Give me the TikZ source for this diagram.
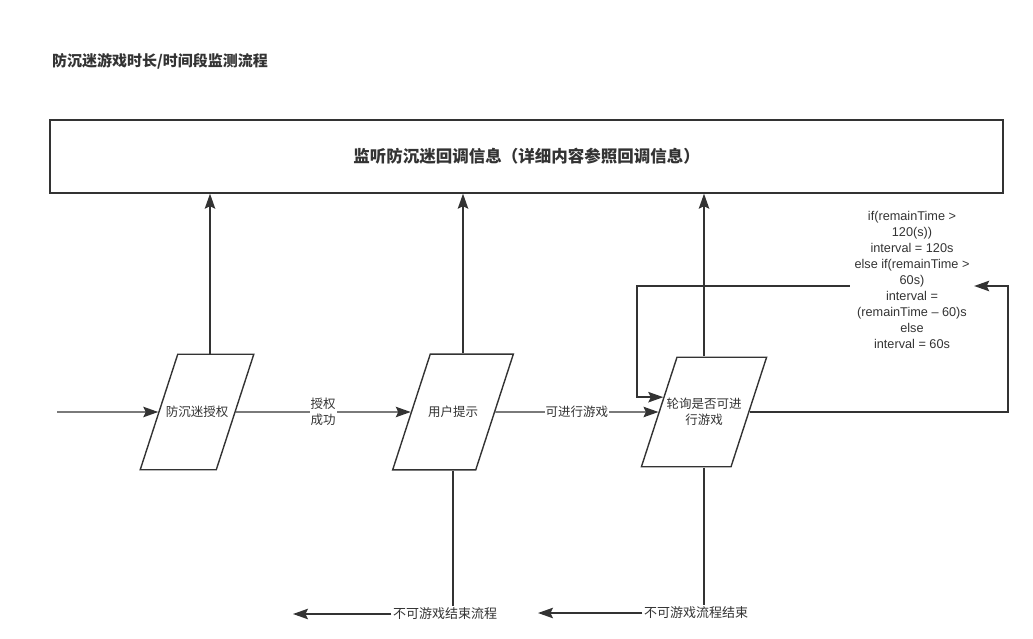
\documentclass[tikz,border=0pt]{standalone}
\usepackage{fontspec}
\setmainfont{Noto Sans CJK SC}
\newfontfamily\latinfont{Liberation Sans}
\usetikzlibrary{shapes.geometric,arrows.meta}
\definecolor{ink}{HTML}{333333}

\begin{document}
\begin{tikzpicture}[x=1pt,y=-1pt,line width=1.4pt,draw=ink,text=ink,
    para/.style={draw,trapezium,trapezium left angle=72,trapezium right angle=108,
        inner ysep=52pt,align=center,
        font=\fontsize{12.5}{16}\selectfont},
    flow/.style={-{Stealth[length=15pt,width=10.5pt,inset=2.5pt]}},
    lbl/.style={fill=white,inner sep=1pt,align=center,font=\fontsize{12.5}{16}\selectfont}]
\useasboundingbox (0,0) rectangle (1033,639);

\node [anchor=west,font=\bfseries\fontsize{15}{18}\selectfont] (title) at (48,61) {防沉迷游戏时长/时间段监测流程};
\node [draw,minimum width=953pt,minimum height=73pt,font=\bfseries\fontsize{16.5}{20}\selectfont]
    (listen) at (526.5,156.5) {监听防沉迷回调信息（详细内容参照回调信息）};

\node [para,text width=64pt,inner xsep=-12.75pt]               (auth) at (197,412) {防沉迷授权};
\node [para,text width=52pt,inner xsep=-3.25pt]                (hint) at (453,412) {用户提示};
\node [para,text width=77pt,inner xsep=-11.5pt,inner ysep=41pt] (poll) at (704,412) {轮询是否可进\\行游戏};

\node [align=center,inner sep=4pt,font=\latinfont\fontsize{12.7}{16}\selectfont] (interval) at (912,280)
    {if(remainTime >\\ 120(s))\\ interval = 120s\\ else if(remainTime >\\ 60s)\\ interval =\\ (remainTime – 60)s\\ else\\ interval = 60s};

\node [lbl,font=\fontsize{13}{16}\selectfont] (stop1) at (445,614) {不可游戏结束流程};
\node [lbl,font=\fontsize{13}{16}\selectfont] (stop2) at (696,613) {不可游戏流程结束};

\coordinate (start) at (  57,412);
\coordinate (turnR) at (1008,286);
\coordinate (turnL) at ( 637,286);
\coordinate (exit1) at ( 293,614);
\coordinate (exit2) at ( 538,613);

\draw [flow] (start) -- (auth);
\draw [flow] (auth) -- node[lbl] {授权\\成功} (hint);
\draw [flow] (hint) -- node[lbl] {可进行游戏} (poll);

\draw [flow] ([xshift=13pt]auth.north) -- ([xshift=13pt]auth.north |- listen.south);
\draw [flow] ([xshift=10pt]hint.north) -- ([xshift=10pt]hint.north |- listen.south);
\draw [flow] (poll.north) -- (poll.north |- listen.south);

\draw [flow] (poll.east) -| (turnR) -- (turnR -| interval.east);
\draw [flow] (turnL -| interval.west) -- (turnL) |- (poll.160);

\draw (hint.south) -- (hint.south |- stop1.north);
\draw (poll.south) -- (poll.south |- stop2.north);
\draw [flow] (stop1.west) -- (exit1);
\draw [flow] (stop2.west) -- (exit2);
\end{tikzpicture}
\end{document}
